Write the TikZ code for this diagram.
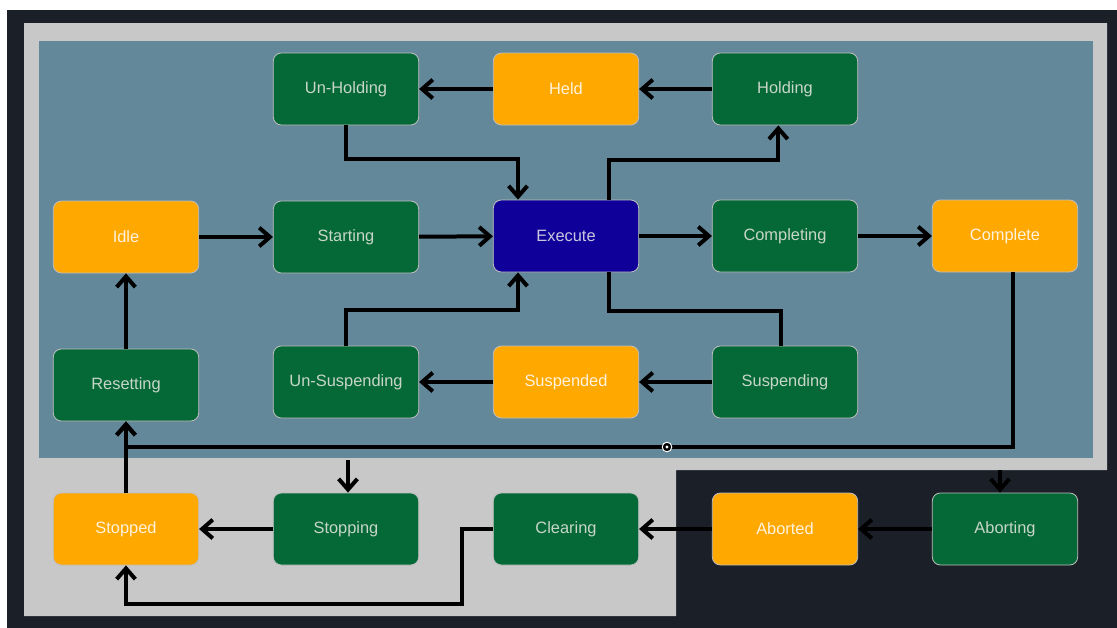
\documentclass[tikz,border=0pt]{standalone}
\usepackage{fontspec}
\setmainfont{Liberation Sans}
\usetikzlibrary{arrows.meta}
\definecolor{bgdark}{RGB}{27,31,40}
\definecolor{frame}{RGB}{200,200,200}
\definecolor{panel}{RGB}{99,136,153}
\definecolor{stgreen}{RGB}{5,105,55}
\definecolor{storange}{RGB}{255,168,0}
\definecolor{stblue}{RGB}{16,0,154}
\definecolor{txgreen}{RGB}{200,214,200}
\definecolor{txorange}{RGB}{255,242,222}
\definecolor{txblue}{RGB}{200,200,222}
\newcommand{\st}[1]{\fontsize{12.3}{14}\selectfont #1}

\begin{document}
\begin{tikzpicture}[x=0.75pt,y=-0.75pt,
	state/.style={rounded corners=6pt, draw=black!25, line width=0.6pt,
		minimum width=109pt, minimum height=54pt, inner sep=0pt},
	act/.style={state, fill=stgreen, text=txgreen},
	wait/.style={state, fill=storange, text=txorange},
	run/.style={state, fill=stblue, text=txblue},
	arr/.style={line width=3pt, -{Straight Barb[length=8pt,width=14pt]}},
	lnk/.style={line width=3pt}]
	% backgrounds
	\fill[white] (0,0) rectangle (1117,628);
	\fill[bgdark] (7,10) rectangle (1117,628);
	\fill[frame] (24,23) -- (1107,23) -- (1107,470) -- (676,470) -- (676,616) -- (24,616) -- cycle;
	\fill[panel] (39,41) rectangle (1093,458);

	% states
	\node[act]  (unholding)    at (346,89)  {\st{Un-Holding}};
	\node[wait] (held)         at (566,89)  {\st{Held}};
	\node[act]  (holding)      at (785,89)  {\st{Holding}};
	\node[wait] (idle)         at (126,237) {\st{Idle}};
	\node[act]  (starting)     at (346,237) {\st{Starting}};
	\node[run]  (execute)      at (566,236) {\st{Execute}};
	\node[act]  (completing)   at (785,236) {\st{Completing}};
	\node[wait] (complete)     at (1005,236) {\st{Complete}};
	\node[act]  (resetting)    at (126,385) {\st{Resetting}};
	\node[act]  (unsuspending) at (346,382) {\st{Un-Suspending}};
	\node[wait] (suspended)    at (566,382) {\st{Suspended}};
	\node[act]  (suspending)   at (785,382) {\st{Suspending}};
	\node[wait] (stopped)      at (126,529) {\st{Stopped}};
	\node[act]  (stopping)     at (346,529) {\st{Stopping}};
	\node[act]  (clearing)     at (566,529) {\st{Clearing}};
	\node[wait] (aborted)      at (785,529) {\st{Aborted}};
	\node[act]  (aborting)     at (1005,529) {\st{Aborting}};

	% transitions
	\draw[arr] (held) -- (unholding);
	\draw[arr] (holding) -- (held);
	\draw[arr] (unholding.south) -- ++(0,34) -| ([xshift=-36pt]execute.north);
	\draw[arr] ([xshift=32pt]execute.north) -- ++(0,-40) -| ([xshift=-5pt]holding.south);
	\draw[arr] (idle) -- (starting);
	\draw[arr] (starting) -- (execute);
	\draw[arr] (execute) -- (completing);
	\draw[arr] (completing) -- (complete);
	\draw[lnk] ([xshift=32pt]execute.south) -- ++(0,39) -| ([xshift=-3pt]suspending.north);
	\draw[arr] (suspending) -- (suspended);
	\draw[arr] (suspended) -- (unsuspending);
	\draw[arr] (unsuspending.north) -- ++(0,-36) -| ([xshift=-36pt]execute.south);
	\draw[arr] (resetting) -- (idle);
	\draw[arr] ([xshift=6pt]complete.south) -- ++(0,175) -| (resetting.south);
	\draw[arr] (stopped) -- (resetting);
	\coordinate (stopin) at (348,460);
	\draw[arr] (stopin) -- (stopin |- stopping.north);
	\coordinate (abortin) at (1000,470);
	\draw[arr] (abortin) -- (abortin |- aborting.north);
	\draw[arr] (stopping) -- (stopped);
	\draw[arr] (aborting) -- (aborted);
	\draw[arr] (aborted) -- (clearing);
	\draw[arr] (clearing.west) -- ++(-31,0) -- ++(0,75) -| (stopped.south);
	\filldraw[draw=white, fill=black, line width=0.7pt] (667,447) circle (3.6pt);
	\fill[white] (667,447) circle (1.2pt);
\end{tikzpicture}
\end{document}
